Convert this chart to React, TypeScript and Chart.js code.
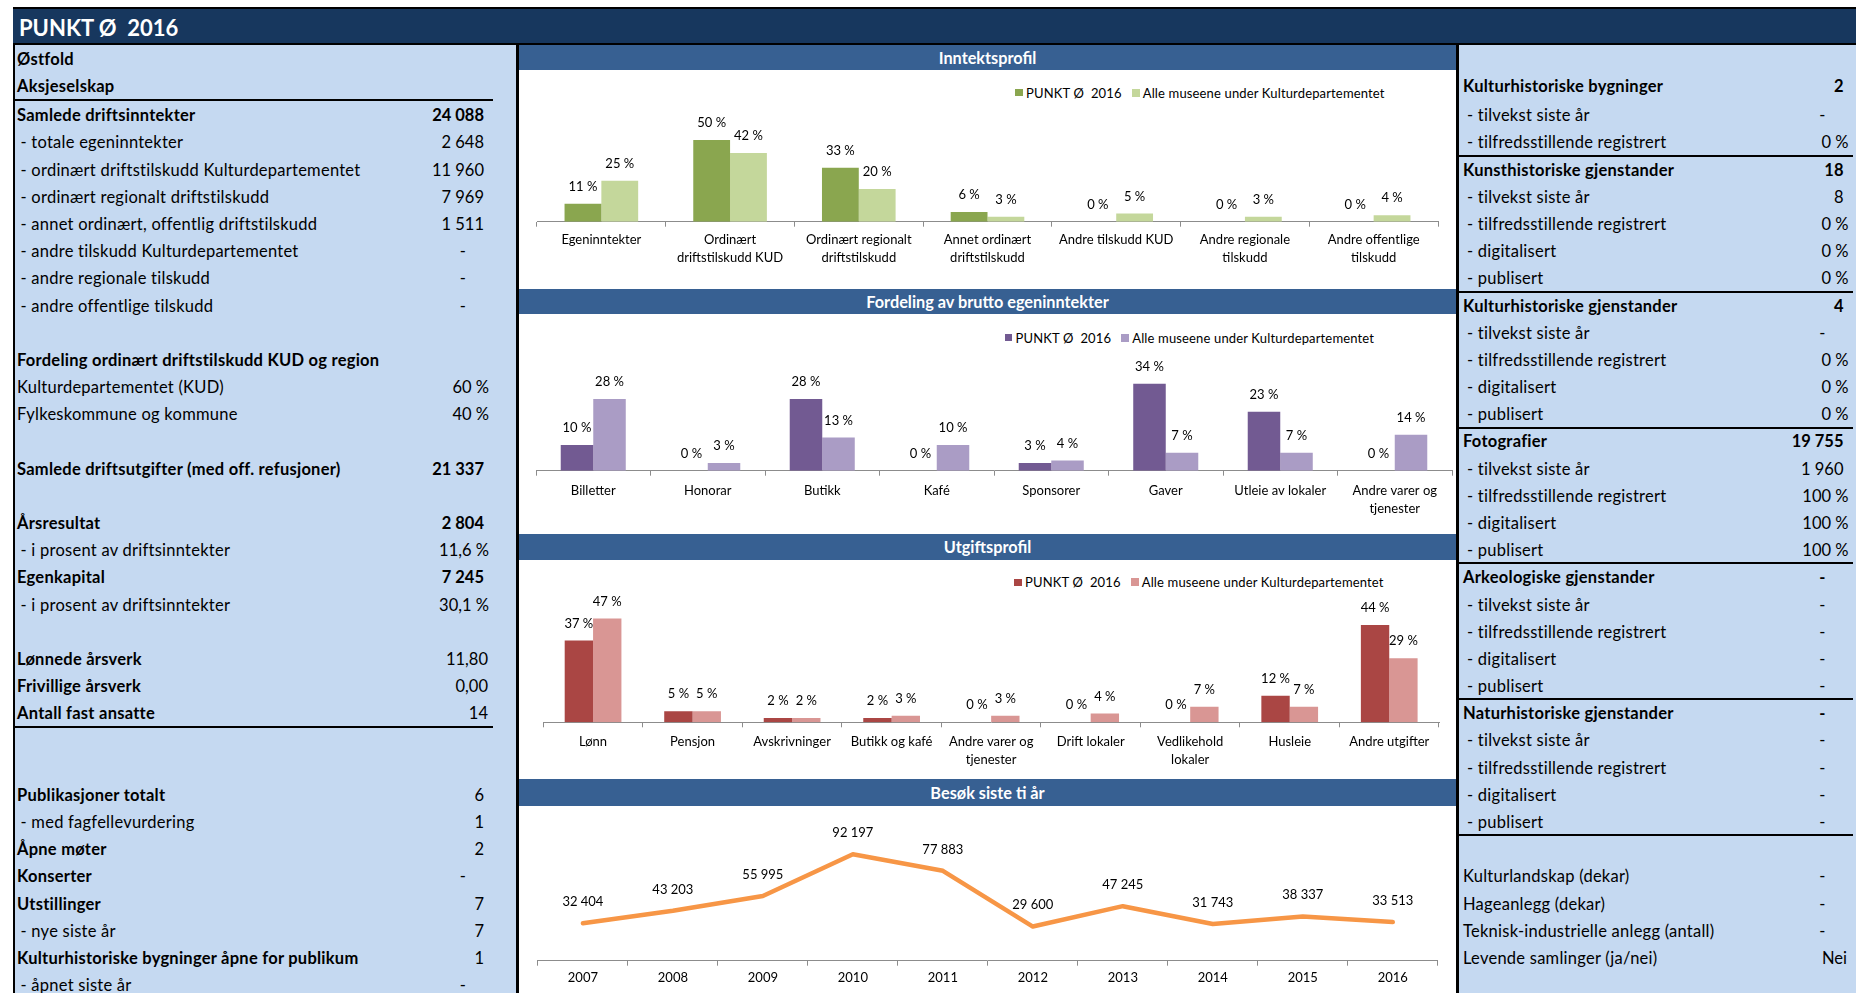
import React, { useEffect, useRef } from "react";
import { Chart, registerables } from "chart.js";
Chart.register(...registerables);

const FONT = "Lato, 'Open Sans', sans-serif";

// ---------- chart data ----------
const seriesNames = ["PUNKT Ø  2016", "Alle museene under Kulturdepartementet"];

const incomeLabels: (string | string[])[] = [
  "Egeninntekter",
  ["Ordinært", "driftstilskudd KUD"],
  ["Ordinært regionalt", "driftstilskudd"],
  ["Annet ordinært", "driftstilskudd"],
  "Andre tilskudd KUD",
  ["Andre regionale", "tilskudd"],
  ["Andre offentlige", "tilskudd"],
];
const incomeMuseum = [11, 50, 33, 6, 0, 0, 0];
const incomeAll = [25, 42, 20, 3, 5, 3, 4];

const ownLabels: (string | string[])[] = [
  "Billetter",
  "Honorar",
  "Butikk",
  "Kafé",
  "Sponsorer",
  "Gaver",
  "Utleie av lokaler",
  ["Andre varer og", "tjenester"],
];
const ownMuseum = [10, 0, 28, 0, 3, 34, 23, 0];
const ownAll = [28, 3, 13, 10, 4, 7, 7, 14];

const costLabels: (string | string[])[] = [
  "Lønn",
  "Pensjon",
  "Avskrivninger",
  "Butikk og kafé",
  ["Andre varer og", "tjenester"],
  "Drift lokaler",
  ["Vedlikehold", "lokaler"],
  "Husleie",
  "Andre utgifter",
];
const costMuseum = [37, 5, 2, 2, 0, 0, 0, 12, 44];
const costAll = [47, 5, 2, 3, 3, 4, 7, 7, 29];

const visitYears = ["2007", "2008", "2009", "2010", "2011", "2012", "2013", "2014", "2015", "2016"];
const visits = [32404, 43203, 55995, 92197, 77883, 29600, 47245, 31743, 38337, 33513];

// ---------- table data: [row, label, value, labelBold, valueBold, sub, valueType] ----------
type TRow = [number, string, string, boolean, boolean, boolean, string];
const leftRows: TRow[] = [
  [0, "Østfold", "", true, false, false, ""],
  [1, "Aksjeselskap", "", true, false, false, ""],
  [2, "Samlede driftsinntekter", "24 088", true, true, false, "n"],
  [3, "- totale egeninntekter", "2 648", false, false, true, "n"],
  [4, "- ordinært driftstilskudd Kulturdepartementet", "11 960", false, false, true, "n"],
  [5, "- ordinært regionalt driftstilskudd", "7 969", false, false, true, "n"],
  [6, "- annet ordinært, offentlig driftstilskudd", "1 511", false, false, true, "n"],
  [7, "- andre tilskudd Kulturdepartementet", "-", false, false, true, "-"],
  [8, "- andre regionale tilskudd", "-", false, false, true, "-"],
  [9, "- andre offentlige tilskudd", "-", false, false, true, "-"],
  [11, "Fordeling ordinært driftstilskudd KUD og region", "", true, false, false, ""],
  [12, "Kulturdepartementet (KUD)", "60 %", false, false, false, "p"],
  [13, "Fylkeskommune og kommune", "40 %", false, false, false, "p"],
  [15, "Samlede driftsutgifter (med off. refusjoner)", "21 337", true, true, false, "n"],
  [17, "Årsresultat", "2 804", true, true, false, "n"],
  [18, "- i prosent av driftsinntekter", "11,6 %", false, false, true, "p"],
  [19, "Egenkapital", "7 245", true, true, false, "n"],
  [20, "- i prosent av driftsinntekter", "30,1 %", false, false, true, "p"],
  [22, "Lønnede årsverk", "11,80", true, false, false, "d"],
  [23, "Frivillige årsverk", "0,00", true, false, false, "d"],
  [24, "Antall fast ansatte", "14", true, false, false, "d"],
  [27, "Publikasjoner totalt", "6", true, false, false, "n"],
  [28, "- med fagfellevurdering", "1", false, false, true, "n"],
  [29, "Åpne møter", "2", true, false, false, "n"],
  [30, "Konserter", "-", true, false, false, "-"],
  [31, "Utstillinger", "7", true, false, false, "n"],
  [32, "- nye siste år", "7", false, false, true, "n"],
  [33, "Kulturhistoriske bygninger åpne for publikum", "1", true, false, false, "n"],
  [34, "- åpnet siste år", "-", false, false, true, "-"],
];
const leftRules = [1, 24];

const rightRows: TRow[] = [
  [1, "Kulturhistoriske bygninger", "2", true, true, false, "n"],
  [2, "- tilvekst siste år", "-", false, false, true, "-"],
  [3, "- tilfredsstillende registrert", "0 %", false, false, true, "p"],
  [4, "Kunsthistoriske gjenstander", "18", true, true, false, "n"],
  [5, "- tilvekst siste år", "8", false, false, true, "n"],
  [6, "- tilfredsstillende registrert", "0 %", false, false, true, "p"],
  [7, "- digitalisert", "0 %", false, false, true, "p"],
  [8, "- publisert", "0 %", false, false, true, "p"],
  [9, "Kulturhistoriske gjenstander", "4", true, true, false, "n"],
  [10, "- tilvekst siste år", "-", false, false, true, "-"],
  [11, "- tilfredsstillende registrert", "0 %", false, false, true, "p"],
  [12, "- digitalisert", "0 %", false, false, true, "p"],
  [13, "- publisert", "0 %", false, false, true, "p"],
  [14, "Fotografier", "19 755", true, true, false, "n"],
  [15, "- tilvekst siste år", "1 960", false, false, true, "n"],
  [16, "- tilfredsstillende registrert", "100 %", false, false, true, "p"],
  [17, "- digitalisert", "100 %", false, false, true, "p"],
  [18, "- publisert", "100 %", false, false, true, "p"],
  [19, "Arkeologiske gjenstander", "-", true, true, false, "-"],
  [20, "- tilvekst siste år", "-", false, false, true, "-"],
  [21, "- tilfredsstillende registrert", "-", false, false, true, "-"],
  [22, "- digitalisert", "-", false, false, true, "-"],
  [23, "- publisert", "-", false, false, true, "-"],
  [24, "Naturhistoriske gjenstander", "-", true, true, false, "-"],
  [25, "- tilvekst siste år", "-", false, false, true, "-"],
  [26, "- tilfredsstillende registrert", "-", false, false, true, "-"],
  [27, "- digitalisert", "-", false, false, true, "-"],
  [28, "- publisert", "-", false, false, true, "-"],
  [30, "Kulturlandskap (dekar)", "-", false, false, false, "-"],
  [31, "Hageanlegg (dekar)", "-", false, false, false, "-"],
  [32, "Teknisk-industrielle anlegg (antall)", "-", false, false, false, "-"],
  [33, "Levende samlinger (ja/nei)", "Nei", false, false, false, "t"],
];
const rightRules = [3, 8, 13, 18, 23, 28];

// ---------- helpers ----------
const rowTop = (i: number) => (i < 2 ? 46 + i * 27 : 102.1 + (i - 2) * 27.18);
const TEXT_SHIFT = 3.2;
const fmtThousands = (v: number) => String(v).replace(/\B(?=(\d{3})+(?!\d))/g, " ");

const valueLabels = {
  id: "valueLabels",
  afterDatasetsDraw(chart: any, _args: any, opts: any) {
    const ctx = chart.ctx;
    ctx.save();
    ctx.font = `13px ${FONT}`;
    ctx.fillStyle = "#000";
    ctx.textAlign = "center";
    ctx.textBaseline = "middle";
    chart.data.datasets.forEach((ds: any, i: number) => {
      const meta = chart.getDatasetMeta(i);
      meta.data.forEach((el: any, j: number) => {
        const v = ds.data[j];
        const text = opts.kind === "pct" ? `${v} %` : fmtThousands(v);
        ctx.fillText(text, el.x, el.y - opts.offset);
      });
    });
    ctx.restore();
  },
};

const AXIS = "#8c8c8c";

function xScale(pad: number, xh: number, extra: any = {}) {
  return {
    ...extra,
    grid: { display: true, offset: true, drawOnChartArea: false, drawTicks: true, tickLength: 5, color: AXIS, lineWidth: 1 },
    border: { display: true, color: AXIS, width: 1 },
    ticks: {
      color: "#000",
      autoSkip: false,
      maxRotation: 0,
      minRotation: 0,
      padding: pad,
      font: { family: FONT, size: 13, lineHeight: 1.37 },
    },
    afterFit: (s: any) => {
      s.height = xh;
    },
  };
}

function barConfig(labels: any[], a: number[], b: number[], colA: string, colB: string, g: any) {
  return {
    type: "bar",
    data: {
      labels,
      datasets: [
        { label: seriesNames[0], data: a, backgroundColor: colA, borderWidth: 0, categoryPercentage: g.cat, barPercentage: 1 },
        { label: seriesNames[1], data: b, backgroundColor: colB, borderWidth: 0, categoryPercentage: g.cat, barPercentage: 1 },
      ],
    },
    options: {
      animation: false,
      responsive: false,
      events: [],
      layout: { padding: { left: g.l, right: g.r, top: g.t, bottom: 0 } },
      plugins: { legend: { display: false }, tooltip: { enabled: false }, valueLabels: { kind: "pct", offset: 17 } },
      scales: {
        x: xScale(g.pad, g.xh),
        y: { display: false, min: 0, max: g.max },
      },
    },
    plugins: [valueLabels],
  };
}

function lineConfig() {
  return {
    type: "line",
    data: {
      labels: visitYears,
      datasets: [
        {
          label: "Besøk",
          data: visits,
          borderColor: "#f79646",
          backgroundColor: "#f79646",
          borderWidth: 4.5,
          pointRadius: 0,
          tension: 0,
          fill: false,
          borderCapStyle: "round",
          borderJoinStyle: "round",
        },
      ],
    },
    options: {
      animation: false,
      responsive: false,
      events: [],
      layout: { padding: { left: 18.9, right: 18.2, top: 39.3, bottom: 0 } },
      plugins: { legend: { display: false }, tooltip: { enabled: false }, valueLabels: { kind: "num", offset: 21.5 } },
      scales: {
        x: xScale(3.7, 32.3, { offset: true }),
        y: { display: false, min: 0, max: 100000 },
      },
    },
    plugins: [valueLabels],
  };
}

function ChartCanvas({ left, top, width, height, make }: any) {
  const ref = useRef<HTMLCanvasElement>(null);
  useEffect(() => {
    const c = new Chart(ref.current as HTMLCanvasElement, make());
    return () => c.destroy();
  }, []);
  return (
    <canvas
      ref={ref}
      width={width}
      height={height}
      style={{ position: "absolute", left, top, width, height, display: "block" }}
    />
  );
}

function Header({ top, height, text }: any) {
  return (
    <div
      style={{
        position: "absolute",
        left: 519,
        top,
        width: 937,
        height,
        background: "#376092",
        color: "#fff",
        font: `bold 16.3px ${FONT}`,
        lineHeight: `${height}px`,
        textAlign: "center",
      }}
    >
      {text}
    </div>
  );
}

function Legend({ top, left, colors }: any) {
  return (
    <div
      style={{
        position: "absolute",
        left,
        top: top - 9,
        height: 18,
        display: "flex",
        alignItems: "center",
        font: `13px ${FONT}`,
        letterSpacing: "0.15px",
        whiteSpace: "pre",
        color: "#000",
      }}
    >
      <span style={{ display: "inline-block", width: 7.5, height: 7.5, background: colors[0], marginRight: 3.5 }} />
      <span>{seriesNames[0]}</span>
      <span style={{ display: "inline-block", width: 8, height: 8, background: colors[1], marginLeft: 10, marginRight: 3 }} />
      <span>{seriesNames[1]}</span>
    </div>
  );
}

function TableRows({ rows, labelX, subX, rights }: any) {
  return (
    <>
      {rows.map((r: TRow, k: number) => {
        const [i, label, value, lb, vb, sub, type] = r;
        const top = rowTop(i) + TEXT_SHIFT;
        const right = rights[type];
        return (
          <React.Fragment key={k}>
            <div
              style={{
                position: "absolute",
                left: sub ? subX : labelX,
                top,
                height: 27.2,
                lineHeight: "27.2px",
                font: `${lb ? "bold " : ""}16.5px ${FONT}`,
                letterSpacing: "0.25px",
                whiteSpace: "pre",
                color: "#000",
              }}
            >
              {label}
            </div>
            {value !== "" && (
              <div
                style={{
                  position: "absolute",
                  right: 1856 - right,
                  top,
                  height: 27.2,
                  lineHeight: "27.2px",
                  font: `${vb ? "bold " : ""}16.5px ${FONT}`,
                  whiteSpace: "pre",
                  color: "#000",
                  textAlign: "right",
                }}
              >
                {value}
              </div>
            )}
          </React.Fragment>
        );
      })}
    </>
  );
}

export default function App() {
  useEffect(() => {
    document.body.style.margin = "0";
    document.body.style.overflow = "hidden";
  }, []);

  const green = ["#8aa64f", "#c4d79b"];
  const purple = ["#725a92", "#aa9cc5"];
  const red = ["#aa4644", "#d99694"];

  return (
    <div style={{ position: "absolute", left: 0, top: 0, width: 1856, height: 993, overflow: "hidden", background: "#fff", fontFamily: FONT }}>
      {/* left panel */}
      <div style={{ position: "absolute", left: 15, top: 45, width: 501, height: 948, background: "#c5d9f1" }} />
      <div style={{ position: "absolute", left: 13, top: 8, width: 2, height: 985, background: "#000" }} />
      {/* middle panel borders */}
      <div style={{ position: "absolute", left: 516, top: 43, width: 3, height: 950, background: "#000" }} />
      <div style={{ position: "absolute", left: 1456, top: 43, width: 3, height: 950, background: "#000" }} />
      {/* right panel */}
      <div style={{ position: "absolute", left: 1459, top: 45, width: 397, height: 948, background: "#c5d9f1" }} />
      {/* title bar */}
      <div style={{ position: "absolute", left: 13, top: 7, width: 1843, height: 1.5, background: "#000" }} />
      <div
        style={{
          position: "absolute",
          left: 13,
          top: 8.5,
          width: 1843,
          height: 34.5,
          background: "#17375e",
          color: "#fff",
          font: `bold 22px ${FONT}`,
          lineHeight: "37px",
          paddingLeft: 6,
          whiteSpace: "pre",
          boxSizing: "border-box",
        }}
      >
        {"PUNKT Ø  2016"}
      </div>
      <div style={{ position: "absolute", left: 13, top: 43, width: 1843, height: 2, background: "#000" }} />

      {/* tables */}
      <TableRows rows={leftRows} labelX={17} subX={20.5} rights={{ n: 484, d: 488, p: 489, "-": 466, t: 484 }} />
      {leftRules.map((i) => (
        <div key={i} style={{ position: "absolute", left: 15, top: rowTop(i) + 25.5, width: 478, height: 2, background: "#000" }} />
      ))}
      <TableRows rows={rightRows} labelX={1463} subX={1467} rights={{ n: 1843.5, d: 1843.5, p: 1848.5, "-": 1825.5, t: 1847 }} />
      {rightRules.map((i) => (
        <div key={i} style={{ position: "absolute", left: 1459, top: rowTop(i) + 25.5, width: 394, height: 2, background: "#000" }} />
      ))}

      {/* middle charts */}
      <Header top={45} height={25} text="Inntektsprofil" />
      <Legend top={92.7} left={1015} colors={green} />
      <ChartCanvas
        left={519}
        top={70}
        width={937}
        height={219}
        make={() => barConfig(incomeLabels, incomeMuseum, incomeAll, green[0], green[1], { cat: 0.572, l: 18, r: 18, t: 53.7, max: 60, xh: 67.3, pad: 4.4 })}
      />

      <Header top={289} height={25} text="Fordeling av brutto egeninntekter" />
      <Legend top={337.7} left={1004.5} colors={purple} />
      <ChartCanvas
        left={519}
        top={314}
        width={937}
        height={220}
        make={() => barConfig(ownLabels, ownMuseum, ownAll, purple[0], purple[1], { cat: 0.568, l: 17, r: 4, t: 54.3, max: 40, xh: 63.3, pad: 6.4 })}
      />

      <Header top={534} height={26} text="Utgiftsprofil" />
      <Legend top={582.3} left={1014} colors={red} />
      <ChartCanvas
        left={519}
        top={560}
        width={937}
        height={219}
        make={() => barConfig(costLabels, costMuseum, costAll, red[0], red[1], { cat: 0.57, l: 24.3, r: 17, t: 51.8, max: 50, xh: 56.7, pad: 5.4 })}
      />

      <Header top={779} height={27} text="Besøk siste ti år" />
      <ChartCanvas left={519} top={806} width={937} height={187} make={lineConfig} />
    </div>
  );
}
